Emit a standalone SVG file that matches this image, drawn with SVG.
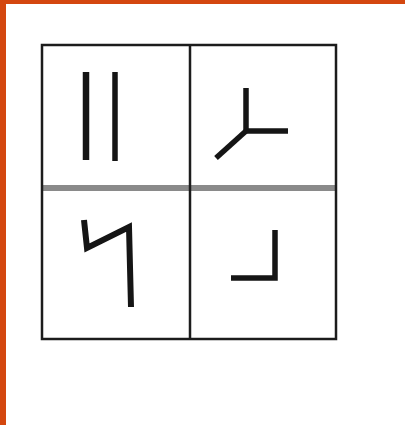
<svg xmlns="http://www.w3.org/2000/svg" width="405" height="425" viewBox="0 0 405 425">
<style>
.grid{fill:none;stroke:#1c1c1c;stroke-width:2.5}
.mid{stroke:#8a8a8a;stroke-width:6}
.st{fill:none;stroke:#151515;stroke-width:5.5;stroke-linecap:butt;stroke-linejoin:miter}
</style>
<rect width="405" height="425" fill="#ffffff"/>
<rect x="0" y="0" width="6" height="425" fill="#d4470f"/>
<rect x="0" y="0" width="405" height="4" fill="#d4470f"/>
<g id="grid">
<line class="mid" x1="43" y1="188" x2="336" y2="188"/>
<rect class="grid" x="42" y="45" width="294" height="294"/>
<line class="grid" x1="190" y1="45" x2="190" y2="339"/>
</g>
<g id="cell1">
<line class="st" x1="86" y1="72" x2="86" y2="160" style="stroke-width:6.5"/>
<line class="st" x1="115" y1="72" x2="115" y2="161"/>
</g>
<g id="cell2">
<polyline class="st" points="246,88 246,131 288,131"/>
<line class="st" x1="246" y1="131" x2="216" y2="158"/>
</g>
<g id="cell3">
<polyline class="st" points="84,220 87,248 129,227 131,307" style="stroke-width:6"/>
</g>
<g id="cell4">
<polyline class="st" points="275,230 275,278 231,278"/>
</g>
</svg>
